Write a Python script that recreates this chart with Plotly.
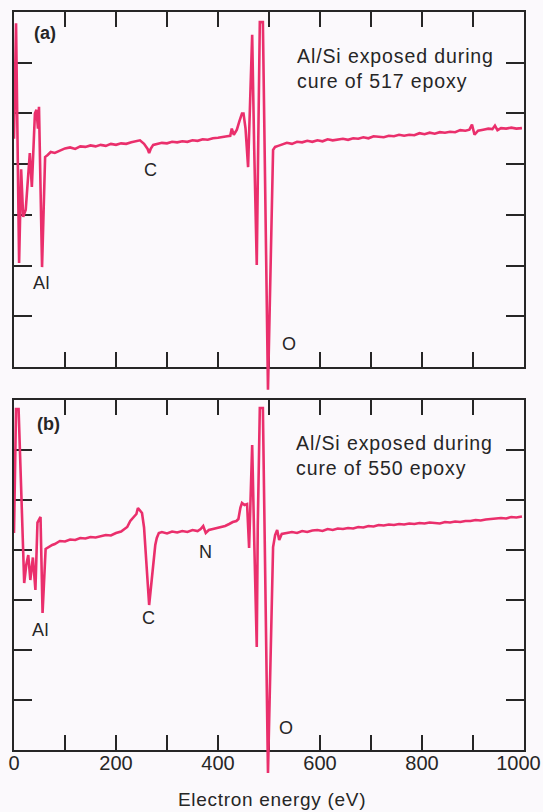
import plotly.graph_objects as go

# ---------------- data ----------------
# y values are in units of the 7 vertical tick intervals of each panel (0 = bottom frame)
energy_a = [0, 4, 10, 14, 18, 23, 31, 35, 41, 44, 47, 49, 55, 61, 66, 72,
            80, 90, 100, 110, 120, 130, 140, 150, 160, 170, 180, 190, 200, 210, 220, 230, 240, 247,
            255, 262, 265, 268, 273, 280, 290, 300, 310, 320, 330, 340, 350, 360, 370, 380, 390,
            400, 410, 418, 424, 427, 431, 437, 442, 447, 450, 454, 459, 463, 467, 471, 476, 479,
            482, 488, 498, 508, 512, 518, 525, 535, 545, 555, 565, 575, 585, 595, 605, 615, 625,
            635, 645, 655, 665, 675, 685, 695, 705, 715, 725, 735, 745, 755, 765, 775, 785, 795,
            805, 815, 825, 835, 845, 855, 865, 875, 885, 893, 898, 903, 910, 920, 930, 938, 943,
            948, 955, 965, 975, 985, 996]
signal_a = [4.50, 6.78, 2.05, 3.90, 2.96, 3.10, 4.22, 3.55, 5.00, 5.07, 4.70, 5.13, 1.97, 4.14, 4.18, 4.24,
            4.22, 4.26, 4.31, 4.33, 4.30, 4.35, 4.34, 4.37, 4.35, 4.38, 4.36, 4.40, 4.38, 4.41, 4.40, 4.43, 4.45, 4.47,
            4.40, 4.30, 4.22, 4.30, 4.38, 4.40, 4.42, 4.41, 4.44, 4.43, 4.45, 4.44, 4.47, 4.46, 4.49, 4.48, 4.51,
            4.52, 4.53, 4.55, 4.56, 4.70, 4.58, 4.68, 4.85, 5.00, 5.00, 4.70, 3.94, 5.50, 6.55, 4.30, 2.01, 4.50,
            6.80, 6.80, -0.45, 4.28, 4.34, 4.36, 4.38, 4.42, 4.40, 4.44, 4.43, 4.46, 4.44, 4.47, 4.45, 4.49, 4.47,
            4.48, 4.50, 4.48, 4.51, 4.50, 4.53, 4.51, 4.55, 4.54, 4.53, 4.56, 4.55, 4.58, 4.56, 4.58, 4.57, 4.61,
            4.59, 4.62, 4.60, 4.63, 4.62, 4.64, 4.63, 4.67, 4.66, 4.68, 4.78, 4.58, 4.66, 4.68, 4.70, 4.69, 4.76,
            4.67, 4.71, 4.70, 4.72, 4.70, 4.71]

energy_b = [0, 4, 9, 20, 24, 28, 32, 37, 42, 46, 52, 56, 62, 68, 75,
            80, 90, 100, 110, 120, 130, 140, 150, 160, 170, 180, 190, 200, 210, 216, 222, 228, 234, 240,
            243, 247, 251, 255, 259, 265, 270, 273, 277, 280, 284, 290, 300, 310, 320, 330, 340, 350,
            360, 366, 371, 376, 382, 390, 398, 406, 414, 422, 429, 436, 440, 444, 447, 452, 457, 461,
            464, 467, 471, 476, 478, 482, 488, 498, 508, 512, 516, 520, 525, 535, 545, 555, 565, 575,
            585, 595, 605, 615, 625, 635, 645, 655, 665, 675, 685, 695, 705, 715, 725, 735, 745, 755,
            765, 775, 785, 795, 805, 815, 825, 835, 845, 855, 865, 875, 885, 895, 905, 915, 925, 935,
            945, 955, 965, 975, 985, 996]
signal_b = [4.34, 6.82, 6.82, 3.34, 3.70, 3.90, 3.40, 3.85, 3.20, 4.55, 4.66, 2.74, 4.02, 4.06, 4.10,
            4.12, 4.18, 4.17, 4.21, 4.20, 4.24, 4.23, 4.26, 4.25, 4.28, 4.30, 4.29, 4.34, 4.37, 4.42, 4.46, 4.58, 4.66, 4.72,
            4.84, 4.80, 4.74, 4.45, 3.90, 2.90, 3.40, 3.74, 4.10, 4.24, 4.34, 4.36, 4.33, 4.37, 4.35, 4.38, 4.36, 4.40,
            4.38, 4.42, 4.48, 4.34, 4.40, 4.42, 4.44, 4.46, 4.48, 4.52, 4.56, 4.58, 4.62, 4.85, 4.94, 4.90, 4.92, 4.04,
            5.20, 6.10, 4.20, 2.06, 4.50, 6.84, 6.84, -0.46, 4.06, 4.30, 4.40, 4.20, 4.32, 4.34, 4.36, 4.34, 4.38, 4.36,
            4.39, 4.40, 4.38, 4.42, 4.40, 4.43, 4.42, 4.44, 4.43, 4.46, 4.45, 4.48, 4.47, 4.50, 4.49, 4.51, 4.50, 4.52,
            4.51, 4.53, 4.52, 4.54, 4.53, 4.55, 4.54, 4.53, 4.56, 4.55, 4.57, 4.56, 4.58, 4.58, 4.60, 4.59, 4.61, 4.62,
            4.63, 4.64, 4.63, 4.66, 4.65, 4.67]

x_tick_values = [0, 100, 200, 300, 400, 500, 600, 700, 800, 900, 1000]
x_tick_labels = ["0", "", "200", "", "400", "", "600", "", "800", "", "1000\u00a0\u00a0"]
y_tick_values = [0, 1, 2, 3, 4, 5, 6, 7]

# ---------------- layout geometry (pixels) ----------------
W, H = 543, 812
ML, MR, MT, MB = 14, 19, 12, 30
PA_BOT = H - MB
PA_H = H - MT - MB
PA_W = W - ML - MR
NDIV = 7

A_TOP, A_BOT = 12, 367      # frame (a)
B_TOP, B_BOT = 400, 750     # frame (b)
A_DATA_TOP, A_DATA_BOT = 12, 400
B_DATA_TOP, B_DATA_BOT = 395, PA_BOT


def ydom(top, bot):
    return [(PA_BOT - bot) / PA_H, (PA_BOT - top) / PA_H]


def ext_range(ftop, fbot, top, bot):
    k = NDIV / (fbot - ftop)
    return [-(bot - fbot) * k, NDIV + (ftop - top) * k]


def px(xp):
    return (xp - ML) / PA_W


def py(yp):
    return (PA_BOT - yp) / PA_H


INK = "#262626"
PINK = "#EA2F6C"
BG = "#FBF9FC"
FONT = "Liberation Sans, Arial, Helvetica, sans-serif"


def spaced(text, sp):
    return '<span style="letter-spacing:%.2fpx">%s</span>' % (sp, text)


fig = go.Figure()
# empty traces so that the two frame subplots (x/y and x2/y2) exist
fig.add_trace(go.Scatter(x=[], y=[], xaxis="x", yaxis="y", mode="lines",
                         hoverinfo="skip", showlegend=False))
fig.add_trace(go.Scatter(x=[], y=[], xaxis="x2", yaxis="y2", mode="lines",
                         hoverinfo="skip", showlegend=False))
fig.add_trace(go.Scatter(x=energy_a, y=signal_a, xaxis="x", yaxis="y3", mode="lines",
                         line=dict(color=PINK, width=2.6), hoverinfo="skip", showlegend=False))
fig.add_trace(go.Scatter(x=energy_b, y=signal_b, xaxis="x2", yaxis="y4", mode="lines",
                         line=dict(color=PINK, width=2.6), hoverinfo="skip", showlegend=False))

frame_x = dict(range=[0, 1000], domain=[0, 1], showgrid=False, zeroline=False, automargin=False,
               showline=True, linecolor=INK, linewidth=1.6, mirror="ticks",
               ticks="inside", ticklen=15, tickwidth=1.5, tickcolor=INK,
               tickvals=x_tick_values, ticktext=x_tick_labels, ticklabeloverflow="allow",
               tickfont=dict(size=20, color=INK, family=FONT), fixedrange=True)
frame_y = dict(range=[0, NDIV], showgrid=False, zeroline=False, automargin=False,
               showline=True, linecolor=INK, linewidth=1.6, mirror="ticks",
               ticks="inside", ticklen=18, tickwidth=1.5, tickcolor=INK,
               tickvals=y_tick_values, showticklabels=False, fixedrange=True)

fig.update_layout(
    width=W, height=H, autosize=False,
    margin=dict(l=ML, r=MR, t=MT, b=MB, autoexpand=False),
    paper_bgcolor=BG, plot_bgcolor="rgba(0,0,0,0)",
    font=dict(family=FONT, color=INK),
    xaxis=dict(frame_x, anchor="y", showticklabels=False),
    yaxis=dict(frame_y, anchor="x", domain=ydom(A_TOP, A_BOT)),
    xaxis2=dict(frame_x, anchor="y2", showticklabels=True, ticklabelstandoff=-6),
    yaxis2=dict(frame_y, anchor="x2", domain=ydom(B_TOP, B_BOT)),
    yaxis3=dict(anchor="x", domain=ydom(A_DATA_TOP, A_DATA_BOT), automargin=False,
                range=ext_range(A_TOP, A_BOT, A_DATA_TOP, A_DATA_BOT), visible=False, fixedrange=True),
    yaxis4=dict(anchor="x2", domain=ydom(B_DATA_TOP, B_DATA_BOT), automargin=False,
                range=ext_range(B_TOP, B_BOT, B_DATA_TOP, B_DATA_BOT), visible=False, fixedrange=True),
)

labels = [
    ("<b>(a)</b>", 45, 33, 18, "center", 0),
    ("<b>(b)</b>", 48, 424, 18, "center", 0),
    ("Al/Si exposed during", 295, 56, 19.5, "left", 0.9),
    ("cure of 517 epoxy", 295, 81, 19.5, "left", 0.9),
    ("Al/Si exposed during", 294, 443, 19.5, "left", 0.9),
    ("cure of 550 epoxy", 294, 468, 19.5, "left", 0.9),
    ("C", 150, 170, 18, "center", 0),
    ("Al", 41, 283, 18, "center", 0.5),
    ("O", 289, 344, 18, "center", 0),
    ("Al", 40, 630, 18, "center", 0.5),
    ("C", 148, 618, 18, "center", 0),
    ("N", 205, 552, 18, "center", 0),
    ("O", 286, 728, 18, "center", 0),
    ("Electron energy (eV)", 272, 799, 19, "center", 0.7),
]
for text, xp, yp, size, anchor, sp in labels:
    fig.add_annotation(text=spaced(text, sp) if sp else text, x=px(xp), y=py(yp),
                       xref="paper", yref="paper",
                       xanchor=anchor, yanchor="middle", showarrow=False,
                       font=dict(size=size, color=INK, family=FONT))

fig.write_html("out.html", config={"displayModeBar": False, "responsive": False},
               post_script="document.body.style.margin='0';")
